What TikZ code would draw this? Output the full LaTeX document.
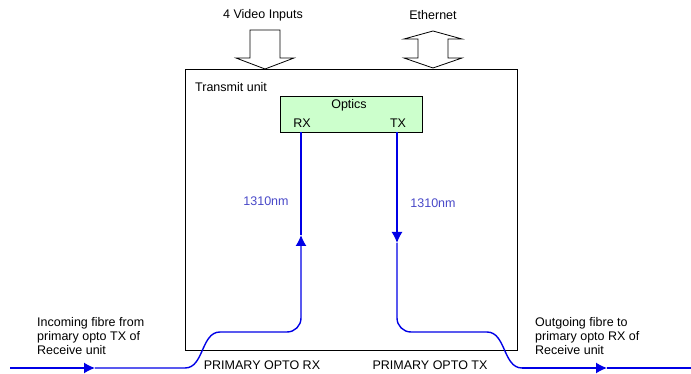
\documentclass[tikz,border=0pt]{standalone}
\usepackage{fontspec}
\setmainfont{Liberation Sans}
\usetikzlibrary{arrows.meta}
\definecolor{opticsgreen}{RGB}{204,255,204}
\definecolor{fibreblue}{RGB}{0,0,230}
\definecolor{lambdablue}{RGB}{72,72,200}

\begin{document}
\begin{tikzpicture}[x=1pt,y=-1pt]
  \tikzset{fibre/.style = {
  draw = fibreblue,
  line width = 1.4pt},
  fibretip/.style = {-{Latex[length=11pt,width=11pt]}},
  txt/.style = {
  font = \fontsize{12.5}{14}\selectfont,
  inner sep = 0pt},
  blockarrow/.style = {
  draw,
  fill = white,
  line width = 0.8pt}}
  \useasboundingbox (0,0) rectangle (691,374);
  % boxes
  \node[draw, line width=0.8pt, minimum width=332pt, minimum height=281pt, inner sep=0pt] (unit) at (351,209.5) {};
  \node[draw, fill=opticsgreen, line width=0.8pt, minimum width=142pt, minimum height=36pt, inner sep=0pt] (optics) at (351,114) {};
  \node[txt, anchor=west] (unitname) at (195,87) {Transmit unit};
  \node[txt] (opticsname) at (349,105) {Optics};
  \node[txt] (rxname) at (302,123) {RX};
  \node[txt] (txname) at (398,123) {TX};
  \coordinate (rxport) at (301,132);
  \coordinate (txport) at (397,132);
  % inputs on top
  \node[txt] (videoin) at (263,15) {4 Video Inputs};
  \node[txt] (ethernet) at (433,15) {Ethernet};
  \draw[blockarrow] (250,30) -- (280,30) -- (280,58) -- (294,58) -- (265,69) -- (236,58) -- (250,58) -- cycle;
  \draw[blockarrow] (433,31) -- (462,39) -- (448,39) -- (448,58) -- (462,58) -- (433,68)
    -- (404,58) -- (418,58) -- (418,39) -- (404,39) -- cycle;
  % fibres
  \coordinate (fibrein) at (10,368);
  \coordinate (fibreout) at (691,368);
  \draw[fibre, fibretip] (fibrein) -- (95,368);
  \draw[fibre] (95,368) -- (185,368)
    .. controls (204,368) and (201,332) .. (220,332);
  \draw[fibre, fibretip, rounded corners=14pt] (220,332) -- (301,332) -- (301,235);
  \draw[fibre] (301,235) -- (rxport);
  \draw[fibre, fibretip] (txport) -- (397,243);
  \draw[fibre, rounded corners=14pt] (397,243) -- (397,332) -- (487,332);
  \draw[fibre] (487,332) .. controls (506,332) and (503,368) .. (522,368);
  \draw[fibre, fibretip] (522,368) -- (607,368);
  \draw[fibre] (607,368) -- (fibreout);
  % labels
  \node[txt, text=lambdablue] (rxlambda) at (266,201) {1310nm};
  \node[txt, text=lambdablue] (txlambda) at (433,203) {1310nm};
  \node[txt] (rxport name) at (262,365) {PRIMARY OPTO RX};
  \node[txt] (txport name) at (430,365) {PRIMARY OPTO TX};
  \node[txt, anchor=west, align=left] (incoming) at (37,336) {Incoming fibre from\\primary opto TX of\\Receive unit};
  \node[txt, anchor=west, align=left] (outgoing) at (535,336) {Outgoing fibre to\\primary opto RX of\\Receive unit};
\end{tikzpicture}
\end{document}
